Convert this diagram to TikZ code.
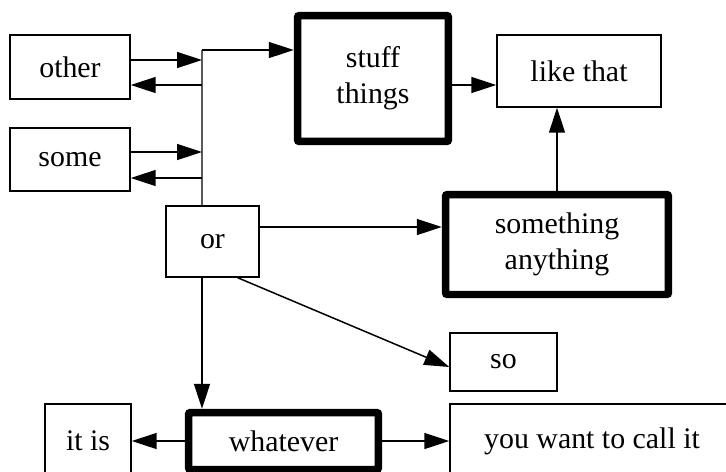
\documentclass[tikz,border=0pt]{standalone}
\usepackage{fontspec}
\setmainfont{Liberation Serif}
\usetikzlibrary{arrows.meta, positioning}

\begin{document}
\begin{tikzpicture}[
x=0.02cm, y=-0.02cm,
every node/.style={draw, rectangle, align=center, line width=0.03cm, inner sep=0pt, font=\fontsize{17}{20.5}\selectfont},
heavy/.style={line width=0.15cm, rounded corners=0.04cm},
arrow/.style={-{Triangle[length=0.5cm, width=0.32cm]}, line width=0.03cm}
]

\useasboundingbox (0,0) rectangle (726,471);

\node (other) [minimum width=2.4cm, minimum height=1.28cm] at (70,67) {other};
\node (some) [minimum width=2.4cm, minimum height=1.26cm] at (70,159.5) {some};
\node (stuff) [heavy, minimum width=3.02cm, minimum height=2.52cm] at (373,78.5) {stuff\\things};
\node (like) [minimum width=3.28cm, minimum height=1.44cm] at (579,71) {like that};
\node (something) [heavy, minimum width=4.46cm, minimum height=2cm] at (557,244.5) {something\\anything};
\node (or) [minimum width=1.86cm, minimum height=1.42cm] at (212.5,241.5) {or};
\node (so) [minimum width=2.14cm, minimum height=1.16cm] at (503.5,362) {so};
\node (itis) [minimum width=1.72cm, minimum height=1.48cm] at (88,441) {it is};
\node (whatever) [heavy, minimum width=3.8cm, minimum height=1.14cm] at (283.5,441) {whatever};
\node (want) [minimum width=5.68cm, minimum height=1.48cm] at (592,441) {you want to call it};

\coordinate (bus) at (202,50);

\draw[gray!70!black, line width=0.025cm] (bus) -- (bus |- or.north);
\draw[arrow] (bus) -- (bus -| stuff.west);
\draw[arrow] ([yshift=0.14cm]other.east) -- ([yshift=0.14cm]other.east -| bus);
\draw[arrow] ([yshift=-0.36cm]other.east -| bus) -- ([yshift=-0.36cm]other.east);
\draw[arrow] ([yshift=0.15cm]some.east) -- ([yshift=0.15cm]some.east -| bus);
\draw[arrow] ([yshift=-0.37cm]some.east -| bus) -- ([yshift=-0.37cm]some.east);
\draw[arrow] ([yshift=-0.13cm]stuff.east) -- ([yshift=-0.13cm]stuff.east -| like.west);
\draw[arrow] (something.north) -- (something.north |- like.south);
\draw[arrow] ([yshift=0.29cm]or.east) -- ([yshift=0.29cm]or.east -| something.west);
\draw[arrow] ([xshift=-0.44cm]or.south east) -- ([yshift=-0.1cm]so.west);
\draw[arrow] (bus |- or.south) -- (bus |- whatever.north);
\draw[arrow] (whatever.west) -- (itis.east);
\draw[arrow] (whatever.east) -- (want.west);

\end{tikzpicture}
\end{document}
